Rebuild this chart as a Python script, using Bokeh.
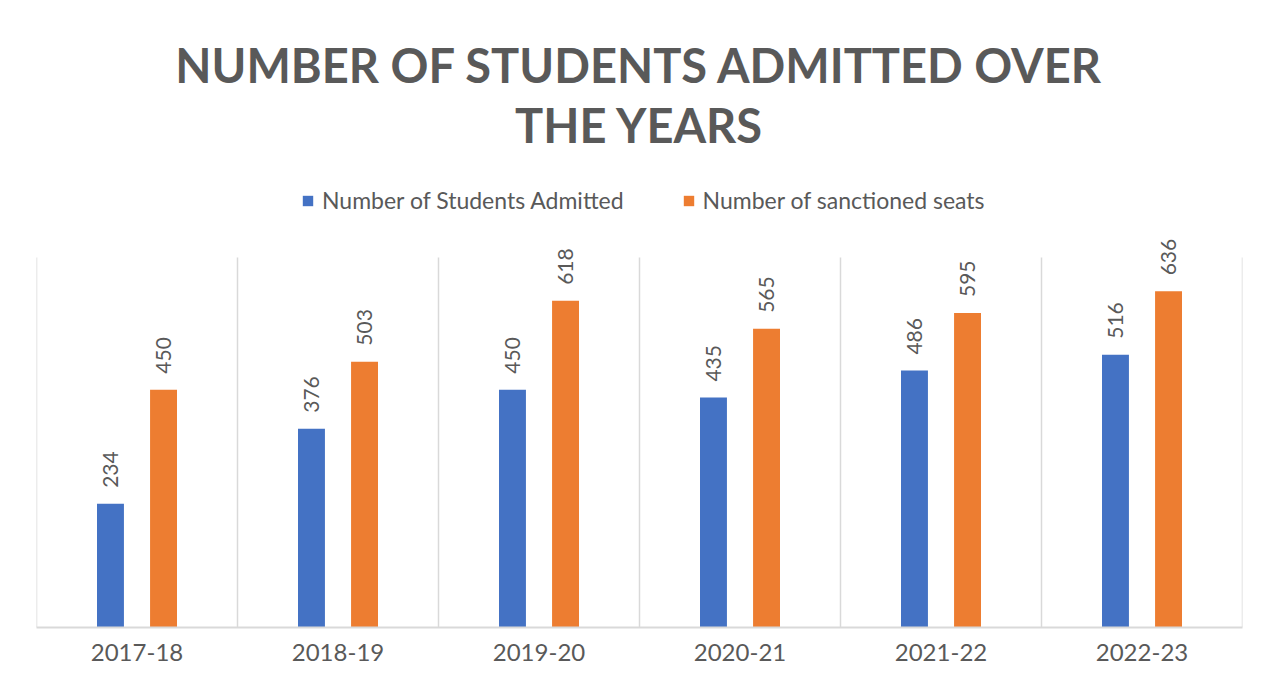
import numpy as np
from bokeh.plotting import figure
from bokeh.models import (ColumnDataSource, Range1d, FixedTicker, Label, Legend, LegendItem)
from bokeh.core.properties import value
from bokeh.embed import file_html
from bokeh.resources import INLINE

# ---- data ----
years = ["2017-18", "2018-19", "2019-20", "2020-21", "2021-22", "2022-23"]
admitted = [234, 376, 450, 435, 486, 516]
sanctioned = [450, 503, 618, 565, 595, 636]
series_names = ["Number of Students Admitted", "Number of sanctioned seats"]
title_lines = ["NUMBER OF STUDENTS ADMITTED OVER", "THE YEARS"]

BLUE = "#4472C4"
ORANGE = "#ED7D31"
GRAY = "#595959"
GRID = "#D9D9D9"
FONT = "Lato"

n = len(years)
centers = np.arange(n) + 0.5
off = 0.132
bw = 0.134

# layout: the value axis 0..700 occupies 370 px; frame extends higher to hold title/legend
AXIS_MAX = 700
PLOT_H = 370
FRAME_H = 627
y_end = AXIS_MAX * FRAME_H / PLOT_H

src = ColumnDataSource(dict(
    xb=centers - off, xo=centers + off,
    adm=admitted, san=sanctioned,
    adm_t=[str(v) for v in admitted], san_t=[str(v) for v in sanctioned],
))

p = figure(frame_width=1206, frame_height=FRAME_H,
           x_range=Range1d(0, n), y_range=Range1d(0, y_end),
           output_backend="svg", toolbar_location=None,
           y_axis_location=None,
           min_border_left=36, min_border_right=22,
           min_border_top=0, min_border_bottom=40)
p.outline_line_color = None
p.background_fill_color = "white"
p.border_fill_color = "white"
p.xgrid.grid_line_color = None
p.ygrid.grid_line_color = None

# category separators (vertical gridlines at category boundaries)
bounds = np.arange(n + 1)
p.segment(x0=bounds, y0=0, x1=bounds, y1=AXIS_MAX,
          line_color=GRID, line_width=1.5)

rb = p.vbar(x="xb", top="adm", width=bw, bottom=0, source=src,
            fill_color=BLUE, line_color=None)
ro = p.vbar(x="xo", top="san", width=bw, bottom=0, source=src,
            fill_color=ORANGE, line_color=None)

for xcol, ycol, tcol in (("xb", "adm", "adm_t"), ("xo", "san", "san_t")):
    p.text(x=xcol, y=ycol, text=tcol, source=src, angle=np.pi / 2,
           text_align="left", text_baseline="middle", y_offset=-16,
           text_font=value(FONT), text_font_size="21px", text_color=GRAY)

# x axis
ax = p.xaxis[0]
ax.ticker = FixedTicker(ticks=list(centers))
ax.major_label_overrides = {float(c): y for c, y in zip(centers, years)}
ax.major_label_text_font = FONT
ax.major_label_text_font_size = "24px"
ax.major_label_text_color = GRAY
ax.major_label_standoff = 16
ax.major_tick_line_color = None
ax.major_tick_out = 0
ax.major_tick_in = 0
ax.minor_tick_line_color = None
ax.axis_line_color = GRID
ax.axis_line_width = 2

# title (frame-relative screen coordinates)
for txt, yy in zip(title_lines, (563, 503)):
    p.add_layout(Label(x=603, y=yy, x_units="screen", y_units="screen",
                       text=txt, text_align="center", text_baseline="alphabetic",
                       text_font=FONT, text_font_style="bold",
                       text_font_size="47px", text_color=GRAY))

legend = Legend(items=[LegendItem(label=series_names[0], renderers=[rb]),
                       LegendItem(label=series_names[1], renderers=[ro])],
                location=(265, 413), orientation="horizontal",
                padding=0, margin=0, spacing=58, label_standoff=8,
                glyph_width=13, glyph_height=13,
                label_text_font=FONT, label_text_font_size="23px",
                label_text_color=GRAY,
                border_line_color=None, background_fill_alpha=0)
p.add_layout(legend, "center")

open("out.html", "w").write(file_html(p, INLINE))
